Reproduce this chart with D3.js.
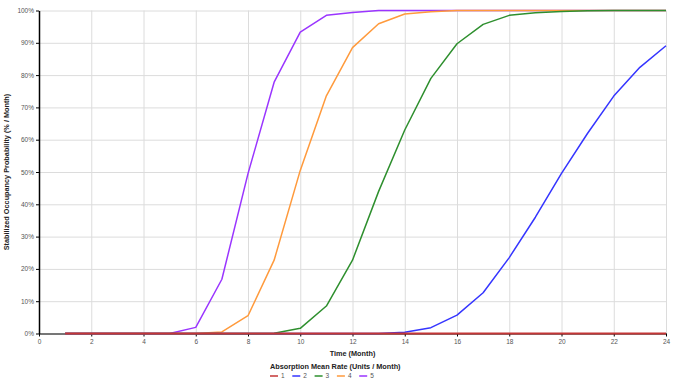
<!DOCTYPE html>
<html>
<head>
<meta charset="utf-8">
<script src="https://cdn.jsdelivr.net/npm/d3@7"></script>
<style>
body { margin: 0; background: #fff; }
text { font-family: "Liberation Sans", Arial, sans-serif; }
.grid line { stroke: #dcdcdc; stroke-width: 1; }
.grid path { display: none; }
.axis text { fill: #555; font-size: 6.5px; }
.axis path, .axis line { stroke: #000; }
.title { font-size: 7.3px; font-weight: bold; fill: #222; }
</style>
</head>
<body>
<div id="chart"></div>
<script>
// months on the x axis
var months = [1,2,3,4,5,6,7,8,9,10,11,12,13,14,15,16,17,18,19,20,21,22,23,24];

// probability (%) per absorption rate
var rate1 = [0,0,0,0,0,0,0,0,0,0,0,0,0,0,0,0,0,0,0,0,0,0,0,0];
var rate2 = [0,0,0,0,0,0,0,0,0,0,0,0,0,0.4,1.8,5.7,12.6,23.5,36,49.6,62,73.5,82.4,89.1];
var rate3 = [0,0,0,0,0,0,0,0,0.1,1.6,8.5,22.7,44,63,79,89.7,95.7,98.5,99.3,99.7,99.9,100,100,100];
var rate4 = [0,0,0,0,0,0,0.5,5.5,22.7,50.5,73.6,88.5,95.9,98.9,99.6,100,100,100,100,100,100,100,100,100];
var rate5 = [0,0,0,0,0,1.9,16.8,49.5,77.8,93.3,98.5,99.4,100,100,100,100,100,100,100,100,100,100,100,100];

var seriesNames = ["1","2","3","4","5"];
var seriesColors = ["#c43636","#3535ff","#2e8f2e","#ff9a3c","#9a35ff"];
var xTicks = [0,2,4,6,8,10,12,14,16,18,20,22,24];
var yTicks = [0,10,20,30,40,50,60,70,80,90,100];

var allSeries = [rate1, rate2, rate3, rate4, rate5];

var W = 676, H = 384;
var margin = {top: 10.5, right: 10, bottom: 50.5, left: 39},
    width = W - margin.left - margin.right,
    height = H - margin.top - margin.bottom;

var svg = d3.select("#chart").append("svg")
    .attr("width", W)
    .attr("height", H);

var x = d3.scaleLinear().domain([0, 24]).range([0, width]);
var y = d3.scaleLinear().domain([0, 100]).range([height, 0]);

var g = svg.append("g")
    .attr("transform", "translate(" + margin.left + "," + margin.top + ")");

// gridlines
g.append("g")
    .attr("class", "grid")
    .attr("transform", "translate(0," + height + ")")
    .call(d3.axisBottom(x).tickValues(xTicks).tickSize(-height).tickFormat(""));

g.append("g")
    .attr("class", "grid")
    .call(d3.axisLeft(y).tickValues(yTicks).tickSize(-width).tickFormat(""));

// axes
g.append("g")
    .attr("class", "axis axis--x")
    .attr("transform", "translate(0," + height + ")")
    .call(d3.axisBottom(x).tickValues(xTicks).tickSize(3).tickSizeOuter(0).tickPadding(3));

g.append("g")
    .attr("class", "axis axis--y")
    .call(d3.axisLeft(y).tickValues(yTicks).tickSize(3).tickSizeOuter(0).tickPadding(2)
        .tickFormat(function(d) { return d + "%"; }));

g.selectAll(".axis--y path").attr("stroke-width", 1.5);

// lines, drawn last series first so series 1 ends up on top
var line = d3.line()
    .x(function(d) { return x(d[0]); })
    .y(function(d) { return y(d[1]); });

for (var i = allSeries.length - 1; i >= 0; i--) {
  var pts = months.map(function(m, j) { return [m, allSeries[i][j]]; });
  g.append("path")
      .datum(pts)
      .attr("fill", "none")
      .attr("stroke", seriesColors[i])
      .attr("stroke-width", i === 0 ? 2 : 1.5)
      .attr("stroke-linejoin", "round")
      .attr("d", line);
}

// axis titles
svg.append("text")
    .attr("class", "title")
    .attr("text-anchor", "middle")
    .attr("x", margin.left + width / 2)
    .attr("y", 356)
    .text("Time (Month)");

svg.append("text")
    .attr("class", "title")
    .attr("text-anchor", "middle")
    .attr("transform", "translate(9," + (margin.top + height / 2) + ") rotate(-90)")
    .text("Stabilized Occupancy Probability (% / Month)");

// legend
var legend = svg.append("g").attr("transform", "translate(270,0)");

legend.append("text")
    .attr("class", "title")
    .attr("x", 0)
    .attr("y", 369)
    .text("Absorption Mean Rate (Units / Month)");

var items = legend.selectAll(".item")
    .data(seriesNames)
    .enter().append("g")
    .attr("class", "item")
    .attr("transform", function(d, i) { return "translate(" + (i * 22.3) + ",378)"; });

items.append("line")
    .attr("x1", 0).attr("x2", 8)
    .attr("y1", -2).attr("y2", -2)
    .attr("stroke", function(d, i) { return seriesColors[i]; })
    .attr("stroke-width", 1.5);

items.append("text")
    .attr("x", 11)
    .attr("y", 0)
    .attr("fill", "#555")
    .style("font-size", "6.5px")
    .text(function(d) { return d; });
</script>
</body>
</html>
